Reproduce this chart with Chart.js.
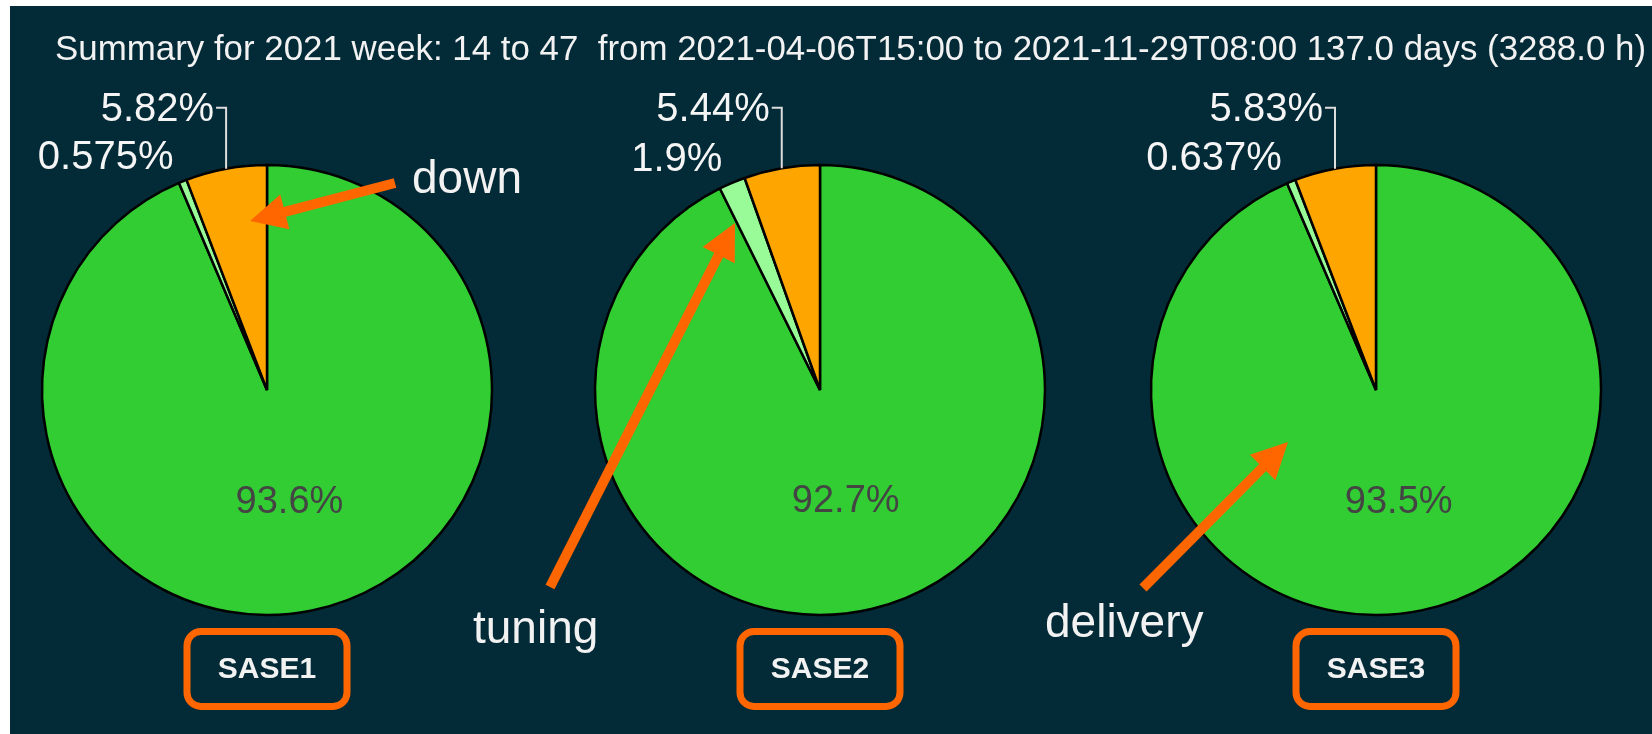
<!DOCTYPE html>
<html>
<head>
<meta charset="utf-8">
<script src="https://cdn.jsdelivr.net/npm/chart.js@4.4.0/dist/chart.umd.min.js"></script>
<style>
  html, body { margin: 0; padding: 0; background: #ffffff; }
  #wrap { position: relative; width: 1652px; height: 734px; overflow: hidden; }
  #panel { position: absolute; left: 10px; top: 6px; right: 0; bottom: 0; background: #032a37; }
  #wrap canvas { position: absolute; left: 0; top: 0; }
</style>
</head>
<body>
<div id="wrap">
  <div id="panel"></div>
  <canvas id="sase1Chart" width="1652" height="734"></canvas>
  <canvas id="sase2Chart" width="1652" height="734"></canvas>
  <canvas id="sase3Chart" width="1652" height="734"></canvas>
</div>
<script>
// {data}
const titleText = 'Summary for 2021 week: 14 to 47  from 2021-04-06T15:00 to 2021-11-29T08:00 137.0 days (3288.0 h)';
const beamlines = ['SASE1', 'SASE2', 'SASE3'];
const categories = ['delivery', 'tuning', 'down'];
const deliveryPct = [93.6, 92.7, 93.5];
const tuningPct = [0.575, 1.9, 0.637];
const downPct = [5.82, 5.44, 5.83];

const sliceColors = ['#32cd32', '#98fb98', '#ffa500'];
const FONT = '"Liberation Sans", Arial, Helvetica, sans-serif';

// {layout}
const W = 1652, H = 734;
const pieCenterX = [267, 820, 1376];
const pieCenterY = 390;
const pieRadius = 225;

// orange notes drawn on top of the pies
const notes = [
    { text: 'down', tail: [395, 183], tip: [250, 221], tx: 412, ty: 193 },
    { text: 'tuning', tail: [550, 587], tip: [735, 223], tx: 473, ty: 643 },
    { text: 'delivery', tail: [1143, 588], tip: [1288, 442], tx: 1045, ty: 637 }
];

function drawArrow(ctx, tail, tip) {
    const dx = tip[0] - tail[0], dy = tip[1] - tail[1];
    const len = Math.hypot(dx, dy);
    const ux = dx / len, uy = dy / len;
    const headLen = 36, headHalf = 18;
    const bx = tip[0] - ux * headLen, by = tip[1] - uy * headLen;
    ctx.save();
    ctx.strokeStyle = '#ff6600';
    ctx.fillStyle = '#ff6600';
    ctx.lineWidth = 10;
    ctx.beginPath();
    ctx.moveTo(tail[0], tail[1]);
    ctx.lineTo(bx + ux * 4, by + uy * 4);
    ctx.stroke();
    ctx.beginPath();
    ctx.moveTo(tip[0], tip[1]);
    ctx.lineTo(bx - uy * headHalf, by + ux * headHalf);
    ctx.lineTo(bx + uy * headHalf, by - ux * headHalf);
    ctx.closePath();
    ctx.fill();
    ctx.restore();
}

function roundRect(ctx, x, y, w, h, r) {
    ctx.beginPath();
    ctx.moveTo(x + r, y);
    ctx.lineTo(x + w - r, y);
    ctx.arcTo(x + w, y, x + w, y + r, r);
    ctx.lineTo(x + w, y + h - r);
    ctx.arcTo(x + w, y + h, x + w - r, y + h, r);
    ctx.lineTo(x + r, y + h);
    ctx.arcTo(x, y + h, x, y + h - r, r);
    ctx.lineTo(x, y + r);
    ctx.arcTo(x, y, x + r, y, r);
    ctx.closePath();
}

// percent labels, beamline name, notes
const pieLabels = {
    id: 'pieLabels',
    afterDraw(chart, args, opts) {
        const ctx = chart.ctx;
        const idx = opts.index;
        const arcs = chart.getDatasetMeta(0).data;
        const values = chart.data.datasets[0].data;
        ctx.save();

        if (idx === 0) {
            ctx.font = '100px ' + FONT;
            const size = 100 * 1592 / ctx.measureText(titleText).width;
            ctx.font = size + 'px ' + FONT;
            ctx.fillStyle = '#f2f2f2';
            ctx.textAlign = 'left';
            ctx.textBaseline = 'alphabetic';
            ctx.fillText(titleText, 55, 60);
        }

        arcs.forEach((arc, j) => {
            const p = arc.getProps(['x', 'y', 'startAngle', 'endAngle', 'outerRadius'], true);
            const mid = (p.startAngle + p.endAngle) / 2;
            const cos = Math.cos(mid), sin = Math.sin(mid);
            const txt = values[j] + '%';
            if (j === 0) {
                ctx.font = '38px ' + FONT;
                ctx.fillStyle = '#444444';
                ctx.textAlign = 'center';
                ctx.textBaseline = 'middle';
                ctx.fillText(txt, p.x + cos * p.outerRadius * 0.5, p.y + sin * p.outerRadius * 0.5 + 2);
            } else if (j === 1) {
                ctx.font = '40px ' + FONT;
                ctx.fillStyle = '#f5f5f5';
                ctx.textAlign = 'right';
                ctx.textBaseline = 'middle';
                ctx.fillText(txt, p.x + cos * p.outerRadius * 1.11, p.y + sin * p.outerRadius * 1.11);
            } else {
                const ex = p.x + cos * p.outerRadius, ey = p.y + sin * p.outerRadius;
                const ly = p.y - p.outerRadius * 1.255;
                ctx.strokeStyle = '#dddddd';
                ctx.lineWidth = 2;
                ctx.beginPath();
                ctx.moveTo(ex, ey);
                ctx.lineTo(ex, ly);
                ctx.lineTo(ex - 10, ly);
                ctx.stroke();
                ctx.font = '40px ' + FONT;
                ctx.fillStyle = '#f5f5f5';
                ctx.textAlign = 'right';
                ctx.textBaseline = 'middle';
                ctx.fillText(txt, ex - 12, ly + 2);
            }
        });

        // beamline name in orange box
        const cx = pieCenterX[idx];
        ctx.strokeStyle = '#ff6600';
        ctx.lineWidth = 7;
        roundRect(ctx, cx - 80, 631.5, 160, 75, 14);
        ctx.stroke();
        ctx.font = 'bold 30px ' + FONT;
        ctx.fillStyle = '#f2f2f2';
        ctx.textAlign = 'center';
        ctx.textBaseline = 'alphabetic';
        ctx.fillText(beamlines[idx], cx, 678);

        // note
        const n = notes[idx];
        drawArrow(ctx, n.tail, n.tip);
        ctx.font = '46px ' + FONT;
        ctx.fillStyle = '#f2f2f2';
        ctx.textAlign = 'left';
        ctx.fillText(n.text, n.tx, n.ty);

        ctx.restore();
    }
};

const charts = beamlines.map((name, i) => {
    const box = pieRadius + 5;
    return new Chart(document.getElementById('sase' + (i + 1) + 'Chart'), {
        type: 'pie',
        data: {
            labels: categories,
            datasets: [{
                label: name,
                data: [deliveryPct[i], tuningPct[i], downPct[i]],
                backgroundColor: sliceColors,
                borderColor: '#000000',
                borderWidth: 2.5,
                radius: pieRadius
            }]
        },
        options: {
            responsive: false,
            animation: false,
            events: [],
            layout: {
                padding: {
                    left: pieCenterX[i] - box,
                    right: W - (pieCenterX[i] + box),
                    top: pieCenterY - box,
                    bottom: H - (pieCenterY + box)
                }
            },
            plugins: {
                legend: { display: false },
                title: { display: false },
                tooltip: { enabled: false },
                pieLabels: { index: i }
            }
        },
        plugins: [pieLabels]
    });
});
</script>
</body>
</html>
